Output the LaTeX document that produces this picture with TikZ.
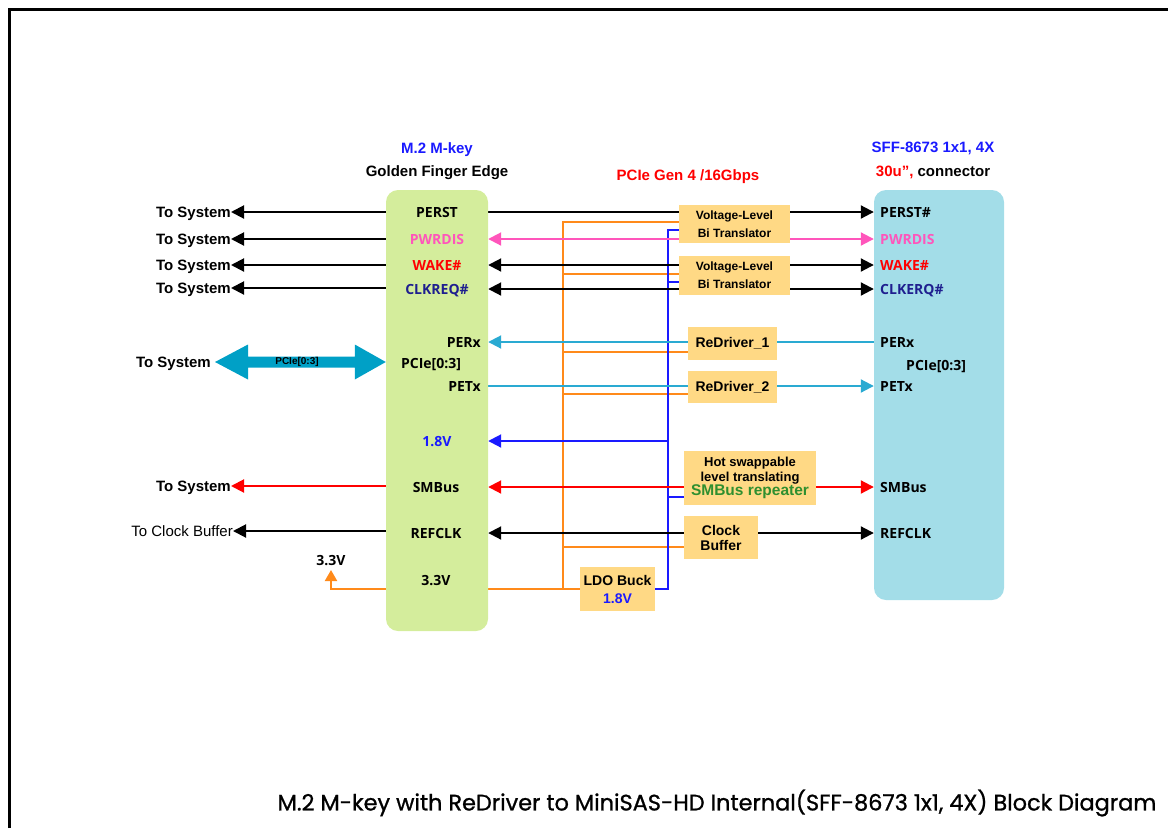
\documentclass[tikz,border=0pt]{standalone}
\usepackage{fontspec}
\setmainfont{Liberation Sans}
\newfontfamily\labfont{Open Sans}
\newfontfamily\titlefont[FakeBold=1]{Poppins}
\usetikzlibrary{arrows.meta,calc}
\definecolor{gfill}{HTML}{D4ED9C}
\definecolor{bfill}{HTML}{A3DDE8}
\definecolor{ofill}{HTML}{FFD985}
\definecolor{pinkc}{HTML}{FF55BB}
\definecolor{navyc}{HTML}{1F1F8F}
\definecolor{cyanc}{HTML}{2AAAD2}
\definecolor{tealc}{HTML}{00A0C6}
\definecolor{bluec}{HTML}{1A1AFF}
\definecolor{orc}{HTML}{FF8A1A}
\definecolor{greenc}{HTML}{2F8F2F}
\definecolor{redc}{HTML}{FF0000}
\pgfdeclarelayer{lines}
\pgfsetlayers{lines,main}
\begin{document}
\begin{tikzpicture}[x=1pt,y=-1pt,
  lab/.style={font=\labfont\bfseries\fontsize{14}{16}\selectfont, inner sep=0pt, text height=10pt, text depth=0pt},
  hdr/.style={font=\bfseries\fontsize{15}{18}\selectfont, inner sep=0pt, text height=10.7pt, text depth=0pt},
  ts/.style={font=\bfseries\fontsize{15}{18}\selectfont, inner sep=0pt, anchor=east, text height=10.7pt, text depth=0pt},
  mbox/.style={fill=ofill, inner sep=0pt, align=center, font=\bfseries},
  sig/.style={line width=2pt},
  tipE/.style={-{Triangle[length=13pt,width=13pt]}},
  tipB/.style={{Triangle[length=13pt,width=13pt]}-{Triangle[length=13pt,width=13pt]}},
  ol/.style={line width=2pt, draw=orc},
  bl/.style={line width=2pt, draw=bluec}
]
\useasboundingbox (0,0) rectangle (1168,828);
% frame
\draw[line width=3pt] (9.5,828) -- (9.5,9.5) -- (1168,9.5);

% big boxes
\node[fill=gfill, rounded corners=12pt, minimum width=102pt, minimum height=441pt, inner sep=0pt] (m2) at (437,410.5) {};
\node[fill=bfill, rounded corners=12pt, minimum width=130pt, minimum height=410pt, inner sep=0pt] (sff) at (939,395) {};

% headers
\node[hdr, text=bluec] (h1) at (437,148) {M.2 M-key};
\node[hdr] (h2) at (437,171) {Golden Finger Edge};
\node[hdr, text=redc] (h3) at (688,175) {PCIe Gen 4 /16Gbps};
\node[hdr, text=bluec] (h4) at (933,147) {SFF-8673 1x1, 4X};
\node[hdr] (h5) at (933,171) {\textcolor{redc}{30u”,} connector};

% green box labels
\node[lab] (gPERST) at (437,212) {PERST};
\node[lab, text=pinkc] (gPWR) at (437,239) {PWRDIS};
\node[lab, text=redc] (gWAKE) at (437,265) {WAKE\#};
\node[lab, text=navyc] (gCLK) at (437,289) {CLKREQ\#};
\node[lab, anchor=east] (gPERx) at (481,342) {PERx};
\node[lab] (gPCIe) at (431,363) {PCIe[0:3]};
\node[lab, anchor=east] (gPETx) at (481,386) {PETx};
\node[lab, text=bluec] (g18) at (437,441) {1.8V};
\node[lab] (gSMB) at (436,487) {SMBus};
\node[lab] (gREF) at (436,533) {REFCLK};
\node[lab] (g33) at (436,580) {3.3V};

% sff labels
\node[lab, anchor=west] (sPERST) at (880,212) {PERST\#};
\node[lab, anchor=west, text=pinkc] (sPWR) at (880,239) {PWRDIS};
\node[lab, anchor=west, text=redc] (sWAKE) at (880,265) {WAKE\#};
\node[lab, anchor=west, text=navyc] (sCLK) at (880,289) {CLKERQ\#};
\node[lab, anchor=west] (sPERx) at (880,342) {PERx};
\node[lab, anchor=west] (sPCIe) at (906,365) {PCIe[0:3]};
\node[lab, anchor=west] (sPETx) at (880,386) {PETx};
\node[lab, anchor=west] (sSMB) at (880,487) {SMBus};
\node[lab, anchor=west] (sREF) at (880,533) {REFCLK};

% left labels
\node[ts] (t1) at (231,212) {To System};
\node[ts] (t2) at (231,239) {To System};
\node[ts] (t3) at (231,265) {To System};
\node[ts] (t4) at (231,288) {To System};
\node[ts] (tP) at (211,362) {To System};
\node[ts] (tS) at (231,486) {To System};
\node[ts, font=\fontsize{15}{18}\selectfont] (tC) at (233,531) {To Clock Buffer};
\node[lab] (t33) at (331,560) {3.3V};
\coordinate (a33) at (331,570);

% middle boxes
\node[mbox, minimum width=111pt, minimum height=38pt, font=\bfseries\fontsize{12}{18}\selectfont] (vl1) at (734.5,224) {Voltage-Level\\Bi Translator};
\node[mbox, minimum width=111pt, minimum height=39pt, font=\bfseries\fontsize{12}{18}\selectfont] (vl2) at (734.5,275.5) {Voltage-Level\\Bi Translator};
\node[mbox, minimum width=89pt, minimum height=33pt, font=\bfseries\fontsize{14}{16}\selectfont] (rd1) at (732.5,343.5) {ReDriver\_1};
\node[mbox, minimum width=89pt, minimum height=32pt, font=\bfseries\fontsize{14}{16}\selectfont] (rd2) at (732.5,387) {ReDriver\_2};
\node[mbox, minimum width=132pt, minimum height=54pt, font=\bfseries\fontsize{13}{15}\selectfont] (hs) at (750,478) {Hot swappable\\level translating\\[-1pt]{\fontsize{15.5}{16}\selectfont\color{greenc}SMBus repeater}};
\node[mbox, minimum width=74pt, minimum height=43pt, font=\bfseries\fontsize{14}{15}\selectfont] (cb) at (721,537.5) {Clock\\Buffer};
\node[mbox, minimum width=75pt, minimum height=44pt, font=\bfseries\fontsize{14}{18}\selectfont] (ldo) at (617.5,589) {LDO Buck\\{\color{bluec}1.8V}};

% PCIe big arrow label
\node[font=\bfseries\fontsize{10}{12}\selectfont, inner sep=0pt] (pl) at (297,362) {PCIe[0:3]};

% title
\node[font=\titlefont\fontsize{22.4}{26}\selectfont, inner sep=0pt] (title) at (717,803) {M.2 M-key with ReDriver to MiniSAS-HD Internal(SFF-8673 1x1, 4X) Block Diagram};

\begin{pgfonlayer}{lines}
% orange power
\coordinate (oT) at (563,222);
\draw[ol] (vl1.west |- oT) -- (oT) -- (oT |- ldo);
\draw[ol] (oT |- 0,274) -- (vl2.west |- 0,274);
\draw[ol] (oT |- 0,352) -- (rd1.west |- 0,352);
\draw[ol] (oT |- 0,394) -- (rd2.west |- 0,394);
\draw[ol] (oT |- 0,547) -- (cb.west |- 0,547);
\draw[ol] (m2.east |- ldo) -- (ldo.west);
\draw[ol, -{Triangle[length=11pt,width=12pt]}] (m2.west |- ldo) -- (a33 |- ldo) -- (a33);
% blue 1.8V
\coordinate (bT) at (668,230);
\draw[bl] (vl1.west |- bT) -- (bT) -- (bT |- ldo) -- (ldo.east);
\draw[bl] (bT |- 0,282) -- (vl2.west |- 0,282);
\draw[bl] (bT |- 0,497) -- (hs.west |- 0,497);
\draw[bl, tipE] (bT |- g18) -- (m2.east |- g18);

% left side
\draw[sig, tipE] (m2.west |- t1) -- (t1.east);
\draw[sig, tipE] (m2.west |- t2) -- (t2.east);
\draw[sig, tipE] (m2.west |- t3) -- (t3.east);
\draw[sig, tipE] (m2.west |- t4) -- (t4.east);
\draw[sig, tipE, draw=redc, fill=redc] (m2.west |- tS) -- (tS.east);
\draw[sig, tipE] (m2.west |- tC) -- (tC.east);
% big PCIe double arrow
\fill[tealc] (tP.east) ++(4,0) coordinate (pA)
  -- ++(33,-17.5) -- ++(0,12) -- ($(m2.west |- tP)+(-31,-5.5)$) -- ++(0,-12)
  -- (m2.west |- tP) -- ++(-31,17.5) -- ++(0,-12) -- ($(pA)+(33,5.5)$) -- ++(0,12) -- cycle;

% right side
\draw[sig, tipE] (m2.east |- gPERST) -- (sff.west |- gPERST);
\draw[sig, tipB, draw=pinkc, fill=pinkc] (m2.east |- gPWR) -- (sff.west |- gPWR);
\draw[sig, tipB] (m2.east |- gWAKE) -- (sff.west |- gWAKE);
\draw[sig, tipB] (m2.east |- gCLK) -- (sff.west |- gCLK);
\draw[sig, tipE, draw=cyanc, fill=cyanc] (sff.west |- gPERx) -- (m2.east |- gPERx);
\draw[sig, tipE, draw=cyanc, fill=cyanc] (m2.east |- gPETx) -- (sff.west |- gPETx);
\draw[sig, tipB, draw=redc, fill=redc] (m2.east |- gSMB) -- (sff.west |- gSMB);
\draw[sig, tipB] (m2.east |- gREF) -- (sff.west |- gREF);
\end{pgfonlayer}
\end{tikzpicture}
\end{document}
